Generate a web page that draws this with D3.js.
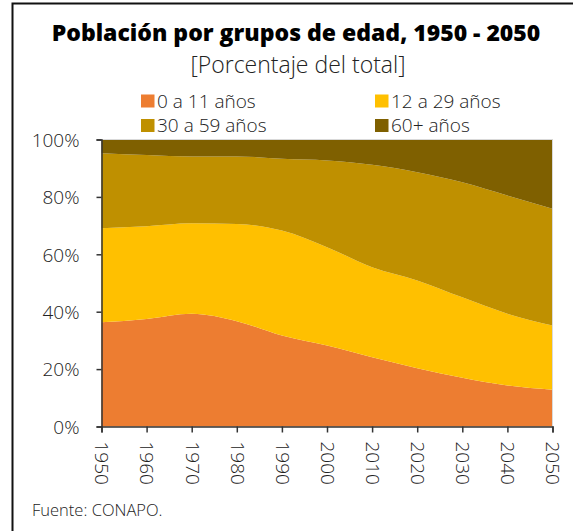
<!DOCTYPE html>
<html>
<head>
<meta charset="utf-8">
<script src="https://cdn.jsdelivr.net/npm/d3@7"></script>
<style>
  body { margin: 0; background: #fff; }
  svg text { font-family: "Open Sans", Lato, sans-serif; fill: #222; }
</style>
</head>
<body>
<svg id="chart" width="573" height="531"></svg>
<script>
// years and age groups (percent of total)
const years = [1950, 1960, 1970, 1980, 1990, 2000, 2010, 2020, 2030, 2040, 2050];
const groups = ["0 a 11 años", "12 a 29 años", "30 a 59 años", "60+ años"];
const kids   = [36.3, 37.5, 39.3, 36.7, 31.7, 28.2, 24.1, 20.3, 17.0, 14.3, 12.8];
const young  = [32.8, 32.3, 31.5, 33.9, 36.6, 34.3, 31.4, 30.6, 28.0, 25.0, 22.4];
const adults = [26.1, 24.8, 23.3, 23.5, 25.0, 30.2, 35.7, 37.7, 40.1, 41.2, 40.7];
const seniors = [4.8, 5.4, 5.9, 5.9, 6.7, 7.3, 8.8, 11.4, 14.9, 19.5, 24.1];
const yTicks = [0, 20, 40, 60, 80, 100];
const colors = ["#ED7D31", "#FFC000", "#BF9000", "#7F6000"];

const svg = d3.select('#chart');

// frame (top + left only)
svg.append('path')
  .attr('d', 'M12.5,531 V3.5 H573')
  .attr('fill', 'none')
  .attr('stroke', '#111')
  .attr('stroke-width', 2);

// titles
svg.append('text')
  .attr('x', 296).attr('y', 41)
  .attr('text-anchor', 'middle')
  .style('font-size', '23px').style('font-weight', 800).style('fill', '#000')
  .text('Población por grupos de edad, 1950 - 2050');
svg.append('text')
  .attr('x', 298).attr('y', 73)
  .attr('text-anchor', 'middle')
  .style('font-size', '23px').style('font-weight', 300)
  .text('[Porcentaje del total]');

const x = d3.scaleLinear().domain([1950, 2050]).range([101.5, 552.5]);
const y = d3.scaleLinear().domain([0, 100]).range([426.5, 139.5]);

// build rows for stacking
const rows = years.map((yr, i) => ({
  year: yr,
  [groups[0]]: kids[i],
  [groups[1]]: young[i],
  [groups[2]]: adults[i],
  [groups[3]]: seniors[i]
}));
const series = d3.stack().keys(groups)(rows);

const area = d3.area()
  .x(d => x(d.data.year))
  .y0(d => y(d[0]))
  .y1(d => y(d[1]))
  .curve(d3.curveMonotoneX);

// last layer fills up to 100%
const topArea = d3.area()
  .x(d => x(d.data.year))
  .y0(d => y(d[0]))
  .y1(y(100))
  .curve(d3.curveMonotoneX);

svg.append('g').selectAll('path')
  .data(series)
  .join('path')
  .attr('fill', (d, i) => colors[i])
  .attr('d', (d, i) => i === groups.length - 1 ? topArea(d) : area(d));

// light plot border top/right
svg.append('path')
  .attr('d', `M${x(1950)},${y(100)} H${x(2050)} V${y(0)}`)
  .attr('fill', 'none')
  .attr('stroke', '#d9d9d9')
  .attr('stroke-width', 1);

// y axis
const yAxis = svg.append('g')
  .attr('transform', `translate(${x(1950)},0)`)
  .call(d3.axisLeft(y).tickValues(yTicks).tickSize(5).tickPadding(17).tickFormat(d => d + '%'));
yAxis.select('.domain').attr('stroke', '#333').attr('stroke-width', 1.5);
yAxis.selectAll('.tick line').attr('stroke', '#333').attr('stroke-width', 1.5);
yAxis.selectAll('.tick text')
  .style('font-size', '19px').style('font-weight', 300).attr('fill', '#222')
  .attr('dy', '0.36em');

// x axis
const xAxis = svg.append('g')
  .attr('transform', `translate(0,${y(0)})`)
  .call(d3.axisBottom(x).tickValues(years).tickSize(6).tickFormat(d3.format('d')));
xAxis.select('.domain').attr('stroke', '#333').attr('stroke-width', 1.5);
xAxis.selectAll('.tick line').attr('stroke', '#333').attr('stroke-width', 1.5);
xAxis.selectAll('.tick text')
  .style('font-size', '19px').style('font-weight', 300).attr('fill', '#222')
  .attr('transform', 'rotate(90)')
  .attr('x', 15).attr('y', 0).attr('dy', '0.35em')
  .attr('text-anchor', 'start');

// legend
const legendPos = [[141, 101], [375, 101], [141, 125.5], [375, 125.5]];
const legend = svg.append('g').selectAll('g')
  .data(groups)
  .join('g')
  .attr('transform', (d, i) => `translate(${legendPos[i][0]},${legendPos[i][1]})`);
legend.append('rect')
  .attr('x', 0).attr('y', -6.5).attr('width', 13.5).attr('height', 13)
  .attr('fill', (d, i) => colors[i]);
legend.append('text')
  .attr('x', 16).attr('y', 0).attr('dy', '0.36em')
  .style('font-size', '19px').style('font-weight', 300)
  .text(d => d);

// source
svg.append('text')
  .attr('x', 32).attr('y', 516)
  .style('font-size', '16.5px').style('font-weight', 300)
  .text('Fuente: CONAPO.');
</script>
</body>
</html>
